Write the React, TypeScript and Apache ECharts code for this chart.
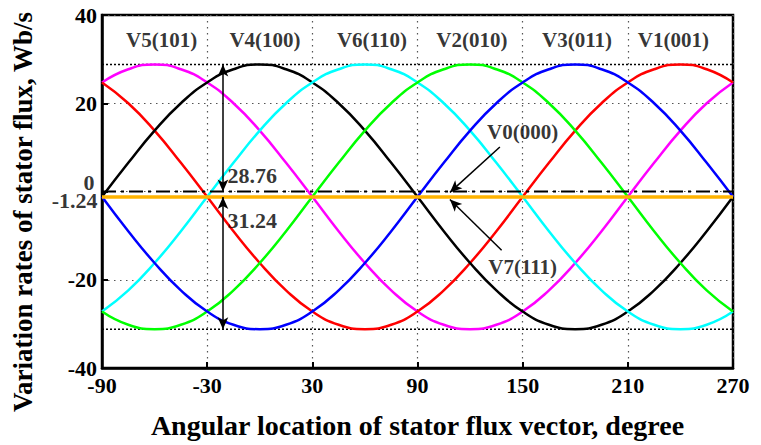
import React, { useEffect, useRef } from 'react';
import * as echarts from 'echarts';

// ---- data ----
const X_MIN = -90; // left end of the angle axis (degree)
const angles = [-90, -75, -60, -45, -30, -15, 0, 15, 30, 45, 60, 75, 90, 105, 120, 135, 150, 165, 180, 195, 210, 225, 240, 255, 270];

const magentaValues = [24.7, 27.7, 28.8, 27.7, 24.7, 20.0, 13.8, 6.5, -1.2, -9.0, -16.2, -22.4, -27.2, -30.2, -31.2, -30.2, -27.2, -22.4, -16.2, -9.0, -1.2, 6.5, 13.8, 20.0, 24.7];
const blackValues = [-1.2, 6.5, 13.8, 20.0, 24.7, 27.7, 28.8, 27.7, 24.7, 20.0, 13.8, 6.5, -1.2, -9.0, -16.2, -22.4, -27.2, -30.2, -31.2, -30.2, -27.2, -22.4, -16.2, -9.0, -1.2];
const cyanValues = [-27.2, -22.4, -16.2, -9.0, -1.2, 6.5, 13.8, 20.0, 24.7, 27.7, 28.8, 27.7, 24.7, 20.0, 13.8, 6.5, -1.2, -9.0, -16.2, -22.4, -27.2, -30.2, -31.2, -30.2, -27.2];
const greenValues = [-27.2, -30.2, -31.2, -30.2, -27.2, -22.4, -16.2, -9.0, -1.2, 6.5, 13.8, 20.0, 24.7, 27.7, 28.8, 27.7, 24.7, 20.0, 13.8, 6.5, -1.2, -9.0, -16.2, -22.4, -27.2];
const blueValues = [-1.2, -9.0, -16.2, -22.4, -27.2, -30.2, -31.2, -30.2, -27.2, -22.4, -16.2, -9.0, -1.2, 6.5, 13.8, 20.0, 24.7, 27.7, 28.8, 27.7, 24.7, 20.0, 13.8, 6.5, -1.2];
const redValues = [24.7, 20.0, 13.8, 6.5, -1.2, -9.0, -16.2, -22.4, -27.2, -30.2, -31.2, -30.2, -27.2, -22.4, -16.2, -9.0, -1.2, 6.5, 13.8, 20.0, 24.7, 27.7, 28.8, 27.7, 24.7];

const upperPeak = 28.76;
const lowerPeak = -31.24;
const zeroVector = 0;      // V0(000)
const sevenVector = -1.24; // V7(111)

const sectorNames = ['V5(101)', 'V4(100)', 'V6(110)', 'V2(010)', 'V3(011)', 'V1(001)'];
const sectorAngles = [-56, 3, 64, 121, 181, 236];
const sectorLevel = 34.4;

const deltaTexts = ['28.76', '31.24'];
const deltaAngle = -21;

const xTitle = 'Angular location of stator flux vector, degree';
const yTitle = 'Variation rates of stator flux, Wb/s';

const FONT = '"Liberation Serif", "Times New Roman", serif';
const X = (a: number) => a - X_MIN;

const curves = [
  { name: 'magenta', color: '#ff00ff', values: magentaValues },
  { name: 'red', color: '#ff0000', values: redValues },
  { name: 'black', color: '#000000', values: blackValues },
  { name: 'cyan', color: '#00ffff', values: cyanValues },
  { name: 'green', color: '#00ff00', values: greenValues },
  { name: 'blue', color: '#0000ff', values: blueValues },
];

function buildOption() {
  const full = (y: number) => [[X(angles[0]), y], [X(angles[angles.length - 1]), y]];
  const labelBase = { show: true, color: '#000', fontFamily: FONT, fontWeight: 'bold' as const, fontSize: 21 };

  const annotations: any[] = [];
  sectorNames.forEach((n, i) => {
    annotations.push({ value: [X(sectorAngles[i]), sectorLevel], label: { ...labelBase, position: 'inside', formatter: n } });
  });
  annotations.push({ value: [X(-18.7), 3.7], label: { ...labelBase, fontSize: 22, position: 'right', distance: 0, formatter: deltaTexts[0] } });
  annotations.push({ value: [X(-18.7), -6.5], label: { ...labelBase, fontSize: 22, position: 'right', distance: 0, formatter: deltaTexts[1] } });
  annotations.push({ value: [X(150), 13.5], label: { ...labelBase, position: 'inside', formatter: 'V0(000)' } });
  annotations.push({ value: [X(150), -17.1], label: { ...labelBase, position: 'inside', formatter: 'V7(111)' } });
  // y-axis special labels
  annotations.push({ value: [X(angles[0]), 0], label: { ...labelBase, fontSize: 22, position: 'left', distance: 7, offset: [0, -9], formatter: '0' } });
  annotations.push({ value: [X(angles[0]), sevenVector], label: { ...labelBase, fontSize: 22, position: 'left', distance: 4, offset: [0, 4], formatter: '-1.24' } });

  const series: any[] = curves.map((c) => ({
    type: 'line',
    name: c.name,
    data: angles.map((a, i) => [X(a), c.values[i]]),
    smooth: true,
    symbol: 'none',
    silent: true,
    lineStyle: { color: c.color, width: 2.5 },
    z: 2,
  }));

  series.push({
    type: 'line', name: 'upper', data: full(upperPeak), symbol: 'none', silent: true,
    lineStyle: { color: '#000', width: 1.5, type: [2, 2] }, z: 1,
  });
  series.push({
    type: 'line', name: 'lower', data: full(lowerPeak), symbol: 'none', silent: true,
    lineStyle: { color: '#000', width: 1.5, type: [2, 2] }, z: 1,
  });
  series.push({
    type: 'line', name: 'V0', data: full(zeroVector), symbol: 'none', silent: true,
    lineStyle: { color: '#000', width: 2, type: [14, 5, 3, 5] }, z: 3,
  });
  series.push({
    type: 'line', name: 'V7', data: full(sevenVector), symbol: 'none', silent: true,
    lineStyle: { color: '#ffb300', width: 3.5 }, z: 3,
    markLine: {
      silent: true,
      animation: false,
      symbol: ['arrow', 'arrow'],
      symbolSize: [8, 12],
      label: { show: false },
      lineStyle: { color: '#000', width: 1.5, type: 'solid' },
      data: [
        [{ coord: [X(deltaAngle), upperPeak] }, { coord: [X(deltaAngle), zeroVector] }],
        [{ coord: [X(deltaAngle), sevenVector] }, { coord: [X(deltaAngle), lowerPeak] }],
        [{ coord: [X(137), 10.1], symbol: 'none' }, { coord: [X(108.5), -0.2], symbol: 'arrow' }],
        [{ coord: [X(138), -13.3], symbol: 'none' }, { coord: [X(108.5), -1.8], symbol: 'arrow' }],
      ],
    },
  });
  series.push({
    type: 'scatter', name: 'annotations', data: annotations, symbolSize: 1, clip: false, silent: true,
    itemStyle: { color: 'rgba(0,0,0,0)' }, z: 5,
  });

  return {
    animation: false,
    backgroundColor: '#fff',
    grid: {
      left: 102, right: 28, top: 15, bottom: 77,
      containLabel: false, outerBoundsMode: 'none',
      show: true, borderColor: '#000', borderWidth: 2.5, backgroundColor: 'transparent',
    },
    graphic: [
      {
        type: 'text', x: 23, y: 212, rotation: Math.PI / 2, silent: true,
        style: { text: yTitle, fill: '#000', font: `bold 27px ${FONT}`, align: 'center', verticalAlign: 'middle' },
      },
    ],
    xAxis: {
      type: 'value', min: 0, max: 360, interval: 60,
      name: xTitle,
      nameLocation: 'middle', nameGap: 43,
      nameTextStyle: { fontFamily: FONT, fontWeight: 'bold', fontSize: 28, color: '#000' },
      axisLine: { show: true, onZero: false, lineStyle: { color: '#000', width: 2.5 } },
      axisTick: { show: true, inside: true, length: 6, lineStyle: { color: '#000', width: 2 } },
      axisLabel: { fontFamily: FONT, fontWeight: 'bold', fontSize: 22, color: '#000', margin: 6, formatter: (v: number) => String(v + X_MIN) },
      splitLine: { show: true, lineStyle: { color: '#555', width: 1.2, type: [1.5, 4.5] } },
    },
    yAxis: {
      type: 'value', min: -40, max: 40, interval: 20,
      axisLine: { show: true, lineStyle: { color: '#000', width: 2.5 } },
      axisTick: { show: true, inside: true, length: 6, lineStyle: { color: '#000', width: 2 } },
      axisLabel: { fontFamily: FONT, fontWeight: 'bold', fontSize: 22, color: '#000', margin: 5, formatter: (v: number) => (v === 0 ? '' : String(v)) },
      splitLine: { show: true, lineStyle: { color: '#555', width: 1.2, type: [1.5, 4.5] } },
    },
    series,
  };
}

export default function App() {
  const ref = useRef<HTMLDivElement>(null);
  useEffect(() => {
    const chart = echarts.init(ref.current as HTMLDivElement, null, { renderer: 'svg' });
    chart.setOption(buildOption() as any);
    return () => chart.dispose();
  }, []);
  return (
    <div
      ref={ref}
      style={{ position: 'fixed', left: 0, top: 0, width: 761, height: 445, background: '#fff' }}
    />
  );
}
